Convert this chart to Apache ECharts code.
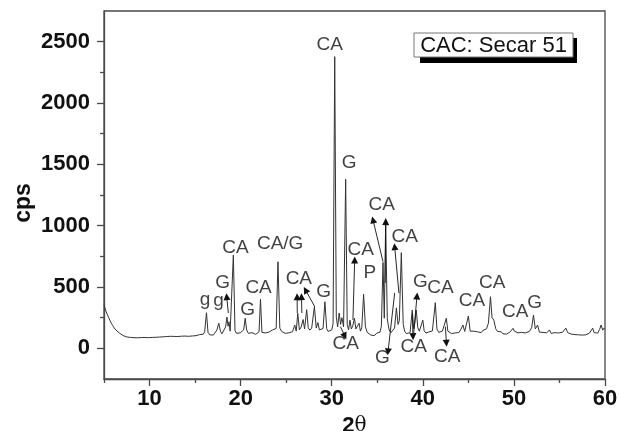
<!DOCTYPE html>
<html>
<head>
<meta charset="utf-8">
<script src="https://cdn.jsdelivr.net/npm/echarts@6/dist/echarts.min.js"></script>
<style>
html,body{margin:0;padding:0;background:#fff;}
#chart{width:619px;height:431px;}
</style>
</head>
<body>
<div id="chart"></div>
<script>
// ---- data ----
const twoTheta = [5.0,5.1,5.2,5.35,5.5,5.65,5.8,5.95,6.1,6.3,6.5,6.7,6.9,7.1,7.3,7.5,7.7,7.9,8.1,8.3,8.5,8.7,8.9,9.1,9.3,9.5,9.7,9.9,10.1,10.3,10.5,10.7,10.9,11.1,11.3,11.5,11.7,11.9,12.1,12.3,12.5,12.7,12.9,13.1,13.3,13.5,13.7,13.9,14.1,14.3,14.5,14.7,14.9,15.1,15.3,15.5,15.7,15.9,16.05,16.25,16.42,16.6,16.8,17.0,17.2,17.4,17.6,17.78,17.95,18.15,18.35,18.5,18.62,18.72,18.85,19.0,19.2,19.38,19.55,19.75,19.95,20.15,20.33,20.5,20.66,20.85,21.05,21.25,21.45,21.65,21.85,22.02,22.18,22.34,22.5,22.7,22.9,23.1,23.3,23.5,23.7,23.9,24.1,24.3,24.5,24.7,24.9,25.1,25.3,25.5,25.7,25.94,26.1,26.27,26.45,26.65,26.86,27.02,27.25,27.42,27.6,27.8,28.1,28.3,28.48,28.65,28.85,29.05,29.25,29.45,29.6,29.8,30.0,30.15,30.33,30.5,30.65,30.82,30.97,31.12,31.3,31.53,31.7,31.85,32.0,32.15,32.3,32.5,32.65,32.82,33.0,33.15,33.3,33.5,33.7,33.9,34.1,34.3,34.5,34.7,34.9,35.1,35.3,35.45,35.63,35.77,35.92,36.1,36.3,36.5,36.7,36.9,37.1,37.28,37.42,37.64,37.85,38.0,38.2,38.4,38.6,38.84,39.0,39.12,39.28,39.45,39.62,39.8,40.0,40.15,40.35,40.6,40.8,41.05,41.37,41.55,41.75,41.95,42.15,42.35,42.58,42.75,42.95,43.15,43.35,43.55,43.75,43.95,44.15,44.4,44.6,44.8,45.0,45.2,45.4,45.6,45.8,46.0,46.2,46.4,46.6,46.8,47.0,47.2,47.43,47.6,47.8,48.0,48.2,48.4,48.6,48.8,49.0,49.2,49.4,49.6,49.9,50.05,50.25,50.45,50.65,50.85,51.05,51.25,51.45,51.7,51.95,52.15,52.35,52.6,52.8,53.0,53.2,53.4,53.6,53.9,54.1,54.3,54.5,54.7,54.9,55.1,55.35,55.55,55.7,55.9,56.1,56.3,56.5,56.7,56.9,57.1,57.3,57.5,57.7,57.9,58.1,58.3,58.5,58.65,58.8,59.0,59.2,59.4,59.57,59.75,59.9,60.0];
const cps = [355,330,305,278,252,228,205,186,168,150,136,124,113,104,99,93,96,89,93,87,91,86,93,88,95,88,92,87,94,89,96,90,98,92,99,94,101,96,104,98,103,97,102,96,104,99,107,100,104,98,106,101,108,103,100,112,104,115,135,290,130,110,117,108,120,150,205,140,118,130,175,255,180,217,140,128,761,145,122,116,126,118,150,245,150,122,116,128,118,114,124,135,400,130,116,126,118,132,124,150,138,162,706,165,138,128,122,134,126,118,136,190,140,285,150,175,235,158,315,168,148,165,340,165,210,150,138,162,380,160,138,132,150,200,2378,255,175,288,195,250,175,1378,195,150,230,158,180,245,158,170,205,140,168,440,175,130,118,108,115,104,122,116,132,180,700,245,1030,240,150,128,124,165,330,195,225,780,195,140,120,136,128,312,160,205,312,168,140,152,230,142,124,132,120,142,372,158,130,126,140,130,245,140,130,120,136,126,140,128,150,190,138,150,263,140,128,140,124,135,142,128,146,138,160,205,421,250,230,160,138,128,135,118,128,116,126,135,163,140,155,126,118,130,116,125,118,138,168,272,158,190,132,124,130,116,126,150,122,116,128,118,125,116,132,140,165,128,120,116,125,112,119,110,117,108,115,110,118,125,140,165,128,140,124,152,190,148,165,158];

const yTickLabels = [0,500,1000,1500,2000,2500];
const yMinorTicks = [250,750,1250,1750,2250];
const xTickLabels = [10,20,30,40,50,60];
const xMinorTicks = [5,15,25,35,45,55];

// peak annotations: [2θ, cps, text]
const peakLabels = [
  [16.08,395,'g'],[17.56,385,'g'],[18.02,533,'G'],[19.44,818,'CA'],[20.76,312,'G'],
  [21.97,492,'CA'],[24.34,851,'CA/G'],[26.39,565,'CA'],[29.10,462,'G'],[29.79,2474,'CA'],
  [31.90,1511,'G'],[31.54,35,'CA'],[33.19,802,'CA'],[34.17,614,'P'],[35.49,1169,'CA'],
  [38.01,908,'CA'],[35.57,-79,'G'],[39.73,541,'G'],[41.93,492,'CA'],[39.0,11,'CA'],
  [42.69,-71,'CA'],[45.39,386,'CA'],[47.63,533,'CA'],[50.15,296,'CA'],[52.27,370,'G']
];
// arrows: [from2θ, fromCps, to2θ, toCps]
const arrows = [
  [18.65,288,18.47,421],[26.22,288,26.20,421],[26.72,288,26.68,421],[28.14,339,27.12,476],
  [30.96,176,31.44,100],[32.33,231,32.52,720],[35.63,706,34.53,1047],[35.87,533,35.93,1033],
  [37.38,449,36.91,829],[36.91,451,36.18,-28],[39.0,125,39.36,427],[38.85,285,38.92,95],
  [42.48,176,42.59,41]
];

const FONT = "'Liberation Sans', Arial, sans-serif";
const chart = echarts.init(document.getElementById('chart'), null, {renderer:'canvas'});

const lineData = twoTheta.map((t,i)=>[t,cps[i]]);
const axisColor = '#4a4a4a';

chart.setOption({
  animation:false,
  backgroundColor:'#fff',
  grid:{left:104, top:11, width:501, height:368, show:true, borderColor:axisColor, borderWidth:1.3, outerBoundsMode:'none', containLabel:false},
  xAxis:[{
    type:'value', min:5, max:60,
    axisLine:{show:true, onZero:false, lineStyle:{color:axisColor, width:1.3}},
    axisTick:{show:true, customValues:xTickLabels, length:7, lineStyle:{color:axisColor, width:1.3}},
    axisLabel:{show:true, customValues:xTickLabels, formatter:v=>String(v), fontFamily:FONT, fontWeight:'bold', fontSize:22, color:'#111', margin:9},
    splitLine:{show:false},
    name:'{a|2}{b|θ}', nameLocation:'middle', nameGap:29,
    nameTextStyle:{rich:{a:{fontFamily:FONT, fontWeight:'bold', fontSize:22, color:'#111'}, b:{fontFamily:"'DejaVu Serif', serif", fontSize:20, color:'#111'}}}
  },{
    type:'value', min:5, max:60, position:'bottom', gridIndex:0,
    axisLine:{show:false, onZero:false},
    axisTick:{show:true, customValues:xMinorTicks, length:4, lineStyle:{color:axisColor, width:1.3}},
    axisLabel:{show:false}, splitLine:{show:false}
  }],
  yAxis:[{
    type:'value', min:-250, max:2750,
    axisLine:{show:true, onZero:false, lineStyle:{color:axisColor, width:1.3}},
    axisTick:{show:true, customValues:yTickLabels, length:7, lineStyle:{color:axisColor, width:1.3}},
    axisLabel:{show:true, customValues:yTickLabels, formatter:v=>String(v), fontFamily:FONT, fontWeight:'bold', fontSize:22, color:'#111', margin:14},
    splitLine:{show:false}
  },{
    type:'value', min:-250, max:2750, position:'left', gridIndex:0,
    axisLine:{show:false, onZero:false},
    axisTick:{show:true, customValues:yMinorTicks, length:4, lineStyle:{color:axisColor, width:1.3}},
    axisLabel:{show:false}, splitLine:{show:false}
  }],
  series:[{
    type:'line', data:lineData, showSymbol:false, symbol:'none',
    xAxisIndex:0, yAxisIndex:0,
    lineStyle:{color:'#333', width:1},
    silent:true,
    markLine:{
      silent:true, symbol:['none','triangle'], symbolSize:7,
      lineStyle:{color:'#111', width:0.9, type:'solid'},
      label:{show:false},
      data: arrows.map(a=>[{coord:[a[0],a[1]]},{coord:[a[2],a[3]]}])
    }
  },{
    type:'scatter', symbolSize:0, silent:true, xAxisIndex:0, yAxisIndex:0,
    data: peakLabels.map(p=>({value:[p[0],p[1]], name:p[2]})),
    label:{show:true, position:'inside', formatter:'{b}', fontFamily:FONT, fontSize:19, color:'#111'}
  }],
  graphic:[
    {type:'text', x:24, y:203, rotation:Math.PI/2, style:{text:'cps', font:"bold 23px 'Liberation Sans', Arial, sans-serif", fill:'#111', textAlign:'center', textVerticalAlign:'middle'}},
    {type:'rect', shape:{x:420, y:38, width:157, height:25}, style:{fill:'#000'}},
    {type:'rect', shape:{x:414, y:33, width:159, height:24}, style:{fill:'#fff', stroke:'#777', lineWidth:1}},
    {type:'text', x:493.5, y:45.5, style:{text:'CAC: Secar 51', font:"22px 'Liberation Sans', Arial, sans-serif", fill:'#111', textAlign:'center', textVerticalAlign:'middle'}}
  ]
});
</script>
</body>
</html>
